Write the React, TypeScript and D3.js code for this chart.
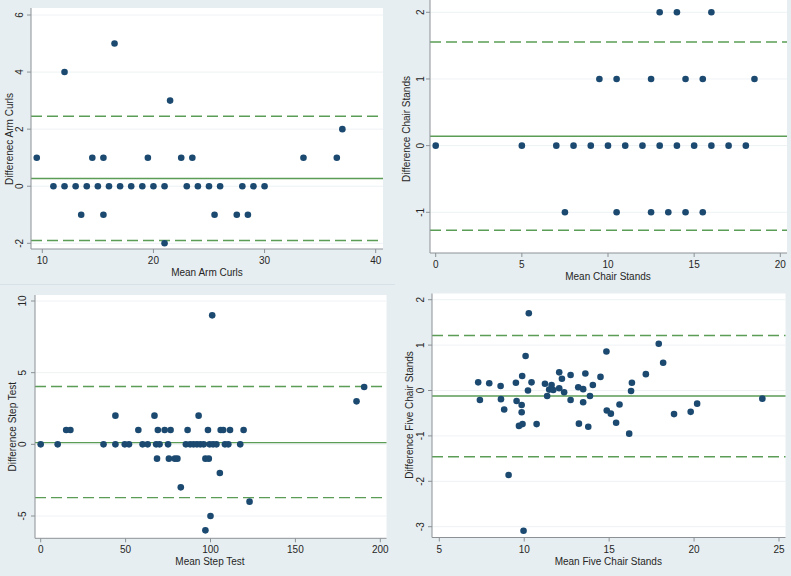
import React from "react";
import * as d3 from "d3";

// ---------- DATA ----------
// Panel 1: Arm curls
const armX = [9.5, 12, 16.5, 21.5, 37, 14.5, 15.5, 19.5, 22.5, 23.5, 33.5, 36.5,
  11, 12, 13, 14, 15, 16, 17, 18, 19, 20, 21, 23, 24, 25, 26, 28, 29, 30,
  13.5, 15.5, 25.5, 27.5, 28.5, 21];
const armY = [1, 4, 5, 3, 2, 1, 1, 1, 1, 1, 1, 1,
  0, 0, 0, 0, 0, 0, 0, 0, 0, 0, 0, 0, 0, 0, 0, 0, 0, 0,
  -1, -1, -1, -1, -1, -2];
const armLines = [0.27, 2.45, -1.9];
const armXTicks = [10, 20, 30, 40];
const armYTicks = [-2, 0, 2, 4, 6];

// Panel 2: Chair stands
const chairX = [13, 14, 16, 9.5, 10.5, 12.5, 14.5, 15.5, 18.5,
  0, 5, 7, 8, 9, 10, 11, 12, 13, 14, 15, 16, 17, 18,
  7.5, 10.5, 12.5, 13.5, 14.5, 15.5];
const chairY = [2, 2, 2, 1, 1, 1, 1, 1, 1,
  0, 0, 0, 0, 0, 0, 0, 0, 0, 0, 0, 0, 0, 0,
  -1, -1, -1, -1, -1, -1];
const chairLines = [0.14, 1.555, -1.27];
const chairXTicks = [0, 5, 10, 15, 20];
const chairYTicks = [-1, 0, 1, 2];

// Panel 3: Step test
const stepX = [101, 186, 190.5, 44, 67, 93,
  15, 17.5, 57.5, 69, 73, 76.5, 86.5, 98.5, 106, 107.5, 111.5, 119.5,
  0, 10, 37, 44, 49.5, 52, 60, 63, 68, 70, 75, 85.5, 88, 90, 92, 94, 96, 99.5, 101.5, 103.5, 108.5, 110.5, 117.5,
  68.5, 75.5, 79, 80.5, 97, 99, 105.5, 82.5, 123, 100, 97];
const stepY = [9, 3, 4, 2, 2, 2,
  1, 1, 1, 1, 1, 1, 1, 1, 1, 1, 1, 1,
  0, 0, 0, 0, 0, 0, 0, 0, 0, 0, 0, 0, 0, 0, 0, 0, 0, 0, 0, 0, 0, 0, 0,
  -1, -1, -1, -1, -1, -1, -2, -3, -4, -5, -6];
const stepLines = [0.12, 4.03, -3.72];
const stepXTicks = [0, 50, 100, 150, 200];
const stepYTicks = [-5, 0, 5, 10];

// Panel 4: Five chair stands
const fiveX = [7.29, 7.39, 7.94, 8.61, 8.63, 8.82, 9.08, 9.51, 9.55, 9.88, 9.85, 9.85, 9.69, 9.9, 9.96,
  10.08, 10.27, 10.22, 10.43, 10.73, 11.22, 11.35, 11.47, 11.61, 11.71, 12.06, 12.06, 12.22, 12.35,
  12.73, 12.73, 13.18, 13.22, 13.47, 13.47, 13.6, 13.87, 13.77, 14.04, 14.49, 14.84, 14.86, 15.1,
  15.41, 15.61, 16.18, 16.29, 16.34, 17.16, 17.92, 18.18, 18.82, 19.8, 20.18, 24.02];
const fiveY = [0.18, -0.21, 0.16, 0.1, -0.19, -0.42, -1.86, 0.17, -0.23, 0.32, -0.32, -0.48, -0.78, -0.74, -3.09,
  0.76, 1.7, 0.0, 0.18, -0.74, 0.15, -0.12, 0.02, 0.12, 0.01, 0.4, 0.05, 0.26, -0.04,
  0.34, -0.21, 0.07, -0.73, 0.03, -0.26, 0.375, -0.12, -0.8, 0.12, 0.3, 0.86, -0.44, -0.51,
  -0.71, -0.31, -0.95, -0.01, 0.17, 0.36, 1.03, 0.61, -0.52, -0.47, -0.29, -0.18];
const fiveLines = [-0.12, 1.21, -1.46];
const fiveXTicks = [5, 10, 15, 20, 25];
const fiveYTicks = [-3, -2, -1, 0, 1, 2];

// ---------- STYLE ----------
const BG = "#e7eef1";
const DOT = "#1b4970";
const GREEN = "#5b9d56";
const AXIS = "#8c9196";
const GRID = "#eef2f4";
const TEXT = "#262626";
const FONT = "'Liberation Sans', Arial, Helvetica, sans-serif";
const FS = 10;

type Layout = {
  plot: { left: number; right: number; top: number; bottom: number };
  xRange: [number, number];
  yRange: [number, number];
  xTickLabelY: number;
  yTickLabelX: number;
  xTitleY: number;
  xTitleX: number;
  yTitleX: number;
  yTitleY: number;
};

type PanelProps = {
  xs: number[];
  ys: number[];
  lines: number[];
  xTicks: number[];
  yTicks: number[];
  xTitle: string;
  yTitle: string;
  layout: Layout;
};

function Panel({ xs, ys, lines, xTicks, yTicks, xTitle, yTitle, layout }: PanelProps) {
  const { plot } = layout;
  const x = d3.scaleLinear().domain([xTicks[0], xTicks[xTicks.length - 1]]).range(layout.xRange);
  const y = d3.scaleLinear().domain([yTicks[0], yTicks[yTicks.length - 1]]).range(layout.yRange);
  return (
    <g>
      <rect x={plot.left} y={plot.top} width={plot.right - plot.left} height={plot.bottom - plot.top} fill="#ffffff" />
      {yTicks.map((t) => (
        <line key={"g" + t} x1={plot.left} x2={plot.right} y1={y(t)} y2={y(t)} stroke={GRID} strokeWidth={1} />
      ))}
      <line x1={plot.left} x2={plot.right} y1={y(lines[0])} y2={y(lines[0])} stroke={GREEN} strokeWidth={1.4} />
      <line x1={plot.left} x2={plot.right} y1={y(lines[1])} y2={y(lines[1])} stroke={GREEN} strokeWidth={1.4} strokeDasharray="11,5" />
      <line x1={plot.left} x2={plot.right} y1={y(lines[2])} y2={y(lines[2])} stroke={GREEN} strokeWidth={1.4} strokeDasharray="11,5" />
      {xs.map((v, i) => (
        <circle key={"p" + i} cx={x(v)} cy={y(ys[i])} r={3.3} fill={DOT} />
      ))}
      <line x1={plot.left} x2={plot.left} y1={plot.top} y2={plot.bottom} stroke={AXIS} strokeWidth={1} />
      <line x1={plot.left} x2={plot.right} y1={plot.bottom} y2={plot.bottom} stroke={AXIS} strokeWidth={1} />
      {xTicks.map((t) => (
        <g key={"xt" + t}>
          <line x1={x(t)} x2={x(t)} y1={plot.bottom} y2={plot.bottom + 4} stroke={AXIS} />
          <text x={x(t)} y={layout.xTickLabelY} textAnchor="middle" dominantBaseline="central" fontSize={FS} fill={TEXT} fontFamily={FONT}>
            {t}
          </text>
        </g>
      ))}
      {yTicks.map((t) => (
        <g key={"yt" + t}>
          <line x1={plot.left - 4} x2={plot.left} y1={y(t)} y2={y(t)} stroke={AXIS} />
          <text
            transform={`translate(${layout.yTickLabelX},${y(t)}) rotate(-90)`}
            textAnchor="middle"
            dominantBaseline="central"
            fontSize={FS}
            fill={TEXT}
            fontFamily={FONT}
          >
            {t}
          </text>
        </g>
      ))}
      <text x={layout.xTitleX} y={layout.xTitleY} textAnchor="middle" dominantBaseline="central" fontSize={FS} fill={TEXT} fontFamily={FONT}>
        {xTitle}
      </text>
      <text
        transform={`translate(${layout.yTitleX},${layout.yTitleY}) rotate(-90)`}
        textAnchor="middle"
        dominantBaseline="central"
        fontSize={FS}
        fill={TEXT}
        fontFamily={FONT}
      >
        {yTitle}
      </text>
    </g>
  );
}

const L1: Layout = {
  plot: { left: 31, right: 383, top: 8, bottom: 249 },
  xRange: [42.3, 375.7],
  yRange: [243.3, 15],
  xTickLabelY: 260.5,
  yTickLabelX: 19.5,
  xTitleX: 207,
  xTitleY: 272.5,
  yTitleX: 9,
  yTitleY: 139,
};
const L2: Layout = {
  plot: { left: 430, right: 787, top: 0, bottom: 253 },
  xRange: [435.7, 780.3],
  yRange: [212.3, 12.3],
  xTickLabelY: 264,
  yTickLabelX: 420,
  xTitleX: 608,
  xTitleY: 276,
  yTitleX: 406.5,
  yTitleY: 129,
};
const L3: Layout = {
  plot: { left: 35, right: 386.5, top: 295, bottom: 538.3 },
  xRange: [40.7, 380.3],
  yRange: [516, 301],
  xTickLabelY: 549,
  yTickLabelX: 22.5,
  xTitleX: 210,
  xTitleY: 561,
  yTitleX: 12.3,
  yTitleY: 426.7,
};
const L4: Layout = {
  plot: { left: 432, right: 785.5, top: 293.5, bottom: 537.5 },
  xRange: [439.3, 779],
  yRange: [526.7, 299.7],
  xTickLabelY: 549,
  yTickLabelX: 420,
  xTitleX: 608.3,
  xTitleY: 561,
  yTitleX: 409,
  yTitleY: 415,
};

export default function App() {
  return (
    <svg
      width={791}
      height={576}
      style={{ position: "absolute", left: 0, top: 0, display: "block" }}
      xmlns="http://www.w3.org/2000/svg"
    >
      <rect x={0} y={0} width={791} height={576} fill={BG} />
      <line x1={0} x2={395} y1={284.5} y2={284.5} stroke="#d6e2e8" strokeWidth={1} />
      <Panel xs={armX} ys={armY} lines={armLines} xTicks={armXTicks} yTicks={armYTicks}
        xTitle="Mean Arm Curls" yTitle="Differenec Arm Curls" layout={L1} />
      <Panel xs={chairX} ys={chairY} lines={chairLines} xTicks={chairXTicks} yTicks={chairYTicks}
        xTitle="Mean Chair Stands" yTitle="Difference Chair Stands" layout={L2} />
      <Panel xs={stepX} ys={stepY} lines={stepLines} xTicks={stepXTicks} yTicks={stepYTicks}
        xTitle="Mean Step Test" yTitle="Difference Step Test" layout={L3} />
      <Panel xs={fiveX} ys={fiveY} lines={fiveLines} xTicks={fiveXTicks} yTicks={fiveYTicks}
        xTitle="Mean Five Chair Stands" yTitle="Difference Five Chair Stands" layout={L4} />
    </svg>
  );
}
